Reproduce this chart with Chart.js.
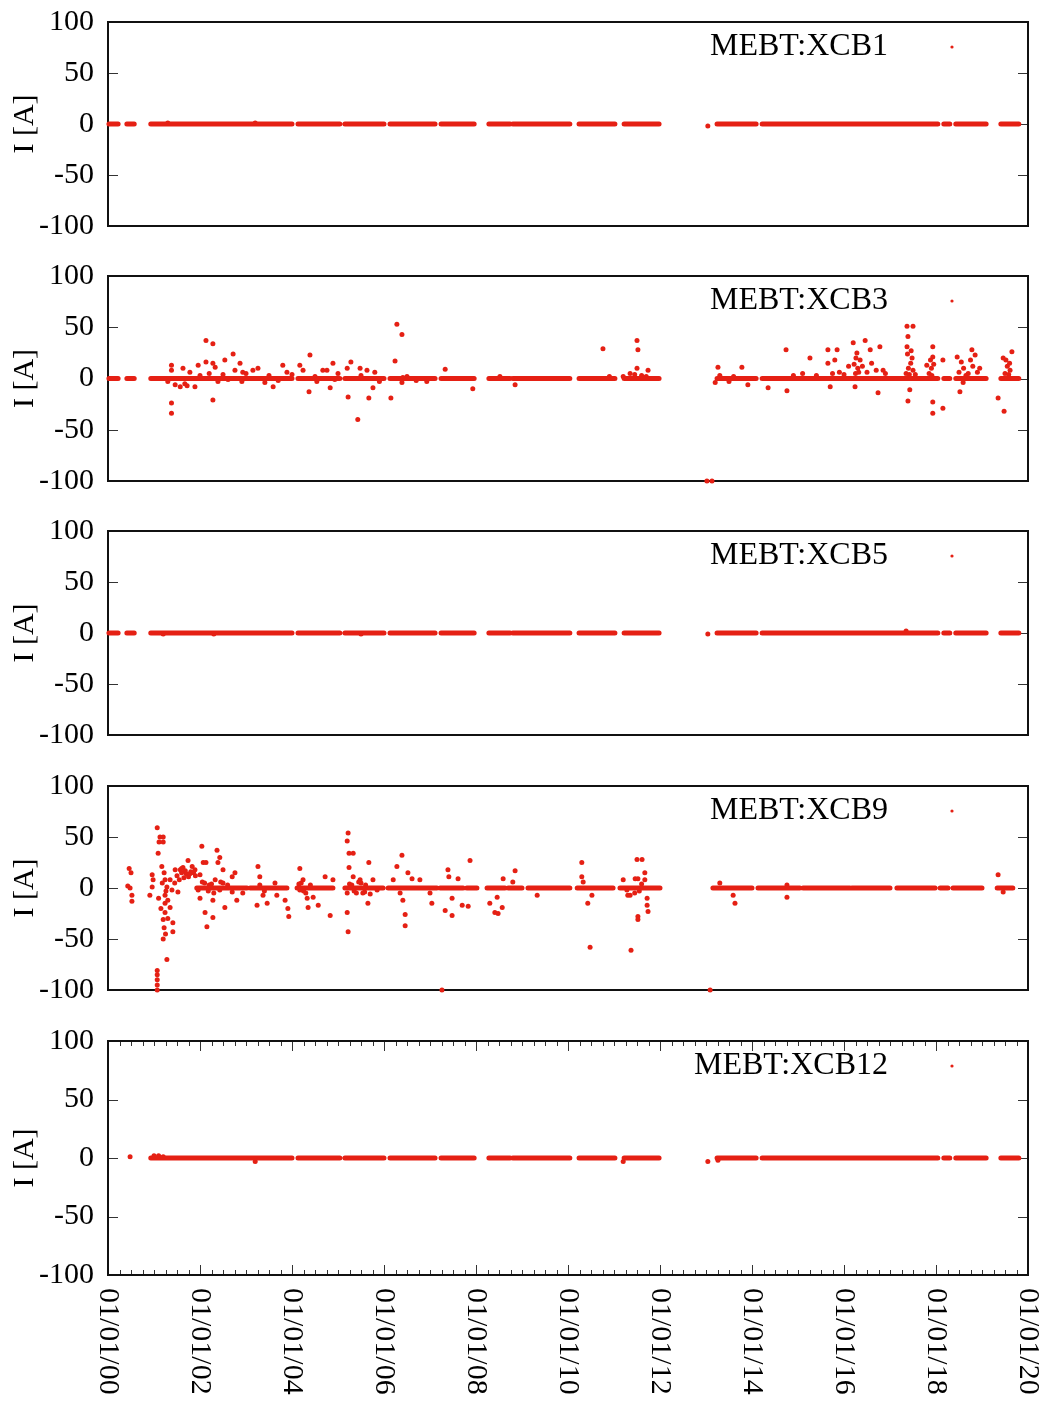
<!DOCTYPE html>
<html>
<head>
<meta charset="utf-8">
<script src="https://cdn.jsdelivr.net/npm/chart.js@4.4.0/dist/chart.umd.min.js"></script>
<style>
html, body { margin: 0; padding: 0; background: #fff; }
#wrap { position: relative; width: 1045px; height: 1408px; overflow: hidden; }
canvas { position: absolute; left: 0; }
</style>
</head>
<body>
<div id="wrap">
  <canvas id="c0"></canvas>
  <canvas id="c1"></canvas>
  <canvas id="c2"></canvas>
  <canvas id="c3"></canvas>
  <canvas id="c4"></canvas>
</div>
<script>
// x values are years since 01/01/00
const tickYears = [0, 2, 4, 6, 8, 10, 12, 14, 16, 18, 20];
const tickLabels = ['01/01/00', '01/01/02', '01/01/04', '01/01/06', '01/01/08', '01/01/10',
                    '01/01/12', '01/01/14', '01/01/16', '01/01/18', '01/01/20'];
const names = ['MEBT:XCB1', 'MEBT:XCB3', 'MEBT:XCB5', 'MEBT:XCB9', 'MEBT:XCB12'];

// stretches of readings sitting at ~0 A  [from, to]
const runsCommon = [[0.02, 0.22], [0.41, 0.57], [0.93, 4.0], [4.13, 5.04], [5.15, 6.0], [6.13, 7.11],
  [7.24, 7.96], [8.28, 8.74], [8.8, 10.04], [10.24, 11.02], [11.22, 11.98], [13.24, 14.09],
  [14.22, 18.04], [18.17, 18.3], [18.43, 19.09], [19.41, 19.8]];
const runsXCB9 = [[1.93, 3.02], [3.09, 3.89], [4.11, 4.89], [5.15, 5.98], [6.09, 7.15], [7.22, 7.72],
  [7.8, 8.02], [8.24, 8.63], [8.7, 9.0], [9.13, 10.04], [10.2, 10.98], [11.13, 12.0], [13.15, 14.0],
  [14.13, 15.04], [15.11, 16.13], [16.17, 17.0], [17.15, 17.98], [18.09, 18.26], [18.37, 19.0], [19.33, 19.67]];
const runsXCB12 = [[0.93, 4.0], [4.13, 5.04], [5.15, 6.0], [6.13, 7.11], [7.24, 7.96], [8.28, 8.74],
  [8.8, 10.04], [10.24, 11.02], [11.22, 11.98], [13.24, 14.09], [14.22, 18.04], [18.17, 18.3],
  [18.43, 19.09], [19.41, 19.8]];

// single readings off the baseline  [year, current]
const ptsXCB1 = [[13.04, -2], [3.2, 1], [1.3, 1]];
const ptsXCB3 = [[1.38, 13], [1.38, 8], [1.38, -24], [1.38, -34], [1.3, -3], [1.46, -6], [1.57, -8],
  [1.67, -5], [1.72, -7], [1.63, 10], [1.78, 6], [1.89, -8], [1.96, 13], [2.13, 37], [2.13, 16],
  [2.28, 34], [2.28, 15], [2.28, -21], [2.33, 11], [2.39, -3], [2.54, 18], [2.61, -1], [2.72, 24],
  [2.76, 8], [2.87, 15], [2.93, 6], [2.91, -3], [3.15, 8], [3.26, 10], [3.41, -4], [3.59, -8],
  [3.8, 13], [3.89, 6], [4.17, 13], [4.24, 8], [4.39, 23], [4.37, -13], [4.54, -3], [4.67, 8],
  [4.76, 8], [4.83, -9], [4.89, 15], [4.93, -1], [5.2, 10], [5.22, -18], [5.28, 16], [5.43, -40],
  [5.48, 10], [5.63, 8], [5.67, -19], [5.76, -9], [5.8, 6], [6.15, -19], [6.24, 17], [6.28, 53],
  [6.39, 43], [6.39, -4], [6.41, 1], [6.93, -3], [7.33, 9], [7.93, -10], [8.52, 2], [8.85, -6],
  [10.76, 29], [11.5, 37], [11.52, 28], [11.5, 10], [11.35, 5], [11.74, 8], [13.02, -100], [13.13, -100],
  [13.26, 11], [13.2, -4], [13.78, 11], [13.91, -6], [14.35, -9], [14.74, 28], [14.76, -12],
  [15.26, 20], [15.65, 28], [15.65, 15], [15.85, 28], [15.8, 18], [15.7, -8], [16.2, 35], [16.46, 37],
  [16.28, 25], [16.35, 18], [16.57, 28], [16.78, 31], [16.24, -8], [16.74, -14], [16.85, 8],
  [17.37, 51], [17.5, 51], [17.39, 41], [17.37, 31], [17.48, 20], [17.39, -22], [17.43, -11],
  [17.93, 31], [17.93, 21], [17.93, -23], [17.93, -34], [18.15, -29], [18.15, 18], [17.8, 13],
  [18.24, 0], [18.46, 21], [18.78, 28], [18.85, 23], [18.52, -13], [18.59, -4], [19.35, -19],
  [19.48, -32], [19.46, 20], [19.65, 26], [19.61, 8],
  [16.25, 5], [16.3, 10], [16.4, 12], [16.5, 6], [16.6, 15], [16.7, 8], [16.9, 5], [17.35, 5],
  [17.4, 10], [17.45, 15], [17.5, 8], [17.55, 4], [17.85, 5], [17.9, 10], [17.95, 14], [18.5, 6],
  [18.6, 10], [18.7, 5], [18.8, 12], [18.9, 6], [19.5, 5], [19.55, 12], [19.6, 15], [14.9, 3],
  [15.1, 5], [15.4, 3], [15.9, 6], [16.0, 4], [13.3, 3], [13.5, -3], [13.6, 2], [11.45, 4], [11.6, 3],
  [11.7, 2], [11.2, 2], [10.9, 2], [2.0, 3], [2.2, 5], [2.5, 4], [3.0, 5], [3.5, 3], [3.7, -2],
  [4.0, 4], [4.5, 2], [5.0, 5], [5.5, 3], [5.9, -3], [6.5, 2], [6.7, -2],
  [16.22, 14], [16.26, 20], [16.32, 6], [17.38, 24], [17.42, 4], [17.46, 27], [17.88, 18], [17.91, 3],
  [18.55, 16], [18.65, 3], [18.75, 18], [18.95, 10], [19.52, 18], [19.58, 4], [15.75, 5], [16.1, 12]];
const ptsXCB5 = [[13.04, -1], [17.35, 2], [1.2, -1], [2.3, -1], [5.5, -1]];
const ptsXCB9 = [[0.46, 19], [0.5, 15], [0.43, 2], [0.48, 0], [0.52, -7], [0.52, -13], [0.96, 13],
  [0.96, 1], [0.98, 8], [0.91, -7], [1.07, 59], [1.07, -81], [1.07, -85], [1.07, -90], [1.07, -95],
  [1.07, -100], [1.13, 50], [1.2, 50], [1.2, 45], [1.2, -31], [1.11, 45], [1.09, 34], [1.17, 21],
  [1.22, 15], [1.22, -39], [1.24, 8], [1.24, -7], [1.24, -15], [1.24, -24], [1.28, 1], [1.28, -70],
  [1.3, -12], [1.41, -34], [1.41, -43], [1.35, 8], [1.35, -19], [1.39, -2], [1.46, 18], [1.57, 18],
  [1.63, 20], [1.74, 27], [1.83, 21], [1.89, 18], [2.0, 13], [2.0, -10], [2.04, 41], [2.07, 25],
  [1.96, -2], [2.11, -24], [2.15, -38], [2.28, -29], [2.13, 25], [2.37, 37], [2.43, 30], [2.43, -2],
  [2.39, 25], [2.33, 8], [2.28, -12], [2.5, 18], [2.54, -19], [2.7, 11], [2.76, 15], [2.8, -12],
  [2.93, -5], [3.26, 21], [3.3, 11], [3.24, -17], [3.37, -7], [3.46, -15], [3.63, 5], [3.67, -7],
  [3.85, -12], [3.91, -20], [3.93, -28], [4.17, 19], [4.17, -2], [4.24, 8], [4.33, -10], [4.35, -19],
  [4.46, -9], [4.57, -17], [4.72, 11], [4.83, -27], [4.89, 8], [5.2, 46], [5.2, -24], [5.2, -5],
  [5.22, 54], [5.22, -43], [5.24, 34], [5.24, 20], [5.33, 34], [5.33, 11], [5.48, 8], [5.54, -5],
  [5.67, 25], [5.65, -15], [5.76, 8], [5.85, -2], [6.2, 8], [6.28, 21], [6.39, 32], [6.35, -5],
  [6.41, -12], [6.46, -26], [6.46, -37], [6.52, 15], [6.61, 9], [6.78, 8], [7.0, -5], [7.04, -15],
  [7.33, -22], [7.39, 18], [7.41, 11], [7.48, -10], [7.48, -27], [7.61, 9], [7.7, -17], [7.83, -18],
  [7.87, 27], [8.3, -15], [8.41, -24], [8.48, -25], [8.46, -9], [8.57, -19], [8.59, 9], [8.8, 6],
  [8.85, 17], [9.33, -7], [7.26, -100], [10.3, 25], [10.3, 11], [10.33, 6], [10.52, -7], [10.43, -15],
  [10.48, -58], [11.2, 8], [11.28, -2], [11.3, -7], [11.37, -61], [11.5, 28], [11.61, 28], [11.46, 9],
  [11.52, 9], [11.52, -28], [11.52, -31], [11.67, 15], [11.67, 8], [11.72, -10], [11.72, -17],
  [11.74, -23], [11.35, -7], [13.3, 5], [13.59, -7], [13.63, -15], [14.76, 3], [14.76, -9],
  [19.35, 13], [19.46, -4], [13.09, -100],
  [1.5, 12], [1.6, 15], [1.7, 14], [1.8, 16], [1.9, 12], [1.55, 8], [1.65, 10], [1.75, 11],
  [2.1, 5], [2.2, 3], [2.3, -5], [2.5, 5], [2.6, 3], [2.7, -4], [3.3, 3], [3.4, -3], [4.2, 5],
  [4.3, -5], [4.4, 3], [5.3, 3], [5.4, -5], [5.5, 5], [5.6, 3], [5.7, -6], [1.2, -50], [1.25, -45],
  [1.1, -10], [1.15, -20], [1.3, -30], [11.45, -5], [11.55, -3], [11.6, 4], [1.45, 5], [1.52, -4],
  [1.6, 19], [1.68, 17], [1.78, 14], [1.86, 15], [2.05, 6], [2.18, -3], [2.25, 4], [2.45, 6],
  [4.15, 4], [4.25, -3], [5.25, 4], [5.35, -3], [5.45, 6], [5.58, -4], [1.18, 5], [1.26, -3]];
const ptsXCB12 = [[0.48, 1], [1.0, 2], [1.1, 2], [1.2, 1], [3.2, -3], [11.2, -3], [13.04, -3], [13.26, -2]];

const panelRuns = [runsCommon, runsCommon, runsCommon, runsXCB9, runsXCB12];
const panelPts = [ptsXCB1, ptsXCB3, ptsXCB5, ptsXCB9, ptsXCB12];

const RED = 'rgb(229,32,20)';
const FONT = 'Liberation Serif';
const canvasTop = [0, 254, 509, 764, 1019];
const canvasH = [248, 249, 248, 248, 389];

function line(ctx, x1, y1, x2, y2) {
  ctx.beginPath(); ctx.moveTo(x1, y1); ctx.lineTo(x2, y2); ctx.stroke();
}

const gnuFrame = {
  id: 'gnuFrame',
  beforeDatasetsDraw(chart, args, opts) {
    const { ctx, chartArea: a, scales: { x, y } } = chart;
    ctx.save();
    ctx.strokeStyle = '#333';
    ctx.lineWidth = 1;
    y.ticks.forEach(t => {
      const py = Math.round(y.getPixelForValue(t.value)) + 0.5;
      line(ctx, a.left, py, a.left + 10, py);
      line(ctx, a.right - 10, py, a.right, py);
    });
    if (opts.xAxis) {
      for (let q = 0; q <= 80; q++) {
        const v = q / 4;
        const px = Math.round(x.getPixelForValue(v)) + 0.5;
        const len = (q % 8 === 0) ? 10 : 5;
        line(ctx, px, a.bottom, px, a.bottom - len);
        line(ctx, px, a.top, px, a.top + len);
      }
    }
    ctx.strokeStyle = '#111';
    ctx.lineWidth = 2;
    ctx.strokeRect(a.left, a.top, a.right - a.left, a.bottom - a.top);
    ctx.restore();
  },
  afterDraw(chart, args, opts) {
    const { ctx, chartArea: a, scales: { x } } = chart;
    ctx.save();
    ctx.fillStyle = '#000';
    ctx.font = '32px "' + FONT + '"';
    ctx.textAlign = 'right';
    ctx.textBaseline = 'middle';
    ctx.fillText(opts.name, a.right - 140, a.top + 25);
    ctx.fillStyle = RED;
    ctx.beginPath(); ctx.arc(a.right - 76, a.top + 25, 1.6, 0, Math.PI * 2); ctx.fill();
    if (opts.xAxis) {
      ctx.fillStyle = '#000';
      ctx.font = '30px "' + FONT + '"';
      ctx.textAlign = 'left';
      tickYears.forEach((v, i) => {
        ctx.save();
        ctx.translate(x.getPixelForValue(v), a.bottom + 13);
        ctx.rotate(Math.PI / 2);
        ctx.fillText(tickLabels[i], 0, 0);
        ctx.restore();
      });
    }
    ctx.restore();
  }
};

function runData(runs) {
  const d = [];
  runs.forEach(([s, e]) => { d.push({ x: s, y: 0 }, { x: e, y: 0 }, { x: e, y: null }); });
  return d;
}

for (let i = 0; i < 5; i++) {
  const cv = document.getElementById('c' + i);
  cv.width = 1045;
  cv.height = canvasH[i];
  cv.style.top = canvasTop[i] + 'px';
  const last = i === 4;
  new Chart(cv, {
    type: 'scatter',
    data: {
      datasets: [
        {
          data: runData(panelRuns[i]),
          showLine: true,
          spanGaps: false,
          borderColor: RED,
          borderWidth: 5,
          borderCapStyle: 'round',
          pointRadius: 0,
          clip: false
        },
        {
          data: panelPts[i].map(([x, y]) => ({ x, y })),
          pointRadius: 2.5,
          pointBackgroundColor: RED,
          pointBorderWidth: 0,
          clip: false
        }
      ]
    },
    options: {
      responsive: false,
      animation: false,
      events: [],
      layout: { padding: { top: 22, bottom: last ? 133 : 22, left: 0, right: 17 } },
      plugins: {
        legend: { display: false },
        tooltip: { enabled: false },
        gnuFrame: { name: names[i], xAxis: last }
      },
      scales: {
        x: { type: 'linear', min: 0, max: 20, display: false },
        y: {
          min: -100, max: 100,
          ticks: { stepSize: 50, color: '#000', padding: 14, font: { family: FONT, size: 30 } },
          grid: { display: false, drawTicks: false },
          border: { display: false },
          title: {
            display: true, text: 'I [A]', color: '#000',
            font: { family: FONT, size: 30 }, padding: { top: 7, bottom: 0 }
          },
          afterFit(s) { s.width = 108; s.paddingTop = 0; s.paddingBottom = 0; }
        }
      }
    },
    plugins: [gnuFrame]
  });
}
</script>
</body>
</html>
